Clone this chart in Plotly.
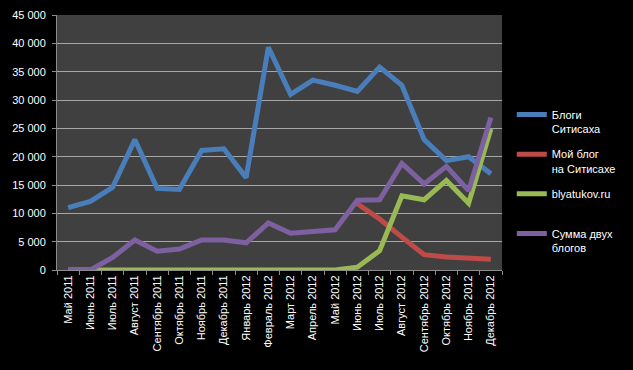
import plotly.graph_objects as go

months = ["Май 2011", "Июнь 2011", "Июль 2011", "Август 2011", "Сентябрь 2011",
          "Октябрь 2011", "Ноябрь 2011", "Декабрь 2011", "Январь 2012", "Февраль 2012",
          "Март 2012", "Апрель 2012", "Май 2012", "Июнь 2012", "Июль 2012",
          "Август 2012", "Сентябрь 2012", "Октябрь 2012", "Ноябрь 2012", "Декабрь 2012"]

blogs_citysakh = [11000, 12100, 14600, 23000, 14400, 14200, 21100, 21400, 16300, 39300,
                  31000, 33500, 32600, 31500, 35800, 32600, 23000, 19300, 20000, 17000]
my_blog = [None, None, None, None, None, None, None, None, None, None,
           None, None, None, 11700, 9000, 5800, 2700, 2300, 2100, 1900]
blyatukov = [0, 0, 0, 0, 0, 0, 0, 0, 0, 0,
             0, 0, 0, 500, 3400, 13100, 12400, 15800, 11800, 24900]
sum_two = [0, 0, 2200, 5300, 3300, 3700, 5300, 5300, 4800, 8300,
           6500, 6800, 7100, 12300, 12400, 18800, 15200, 18300, 14000, 26900]

series_names = ["Блоги<br>Ситисаха", "Мой блог<br>на Ситисахе",
                "blyatukov.ru<br>&nbsp;", "Сумма двух<br>блогов"]
series_colors = ["#4a7ebb", "#be4b48", "#98b954", "#7d60a0"]
series_values = [blogs_citysakh, my_blog, blyatukov, sum_two]

fig = go.Figure()
for i, (name, color, vals) in enumerate(zip(series_names, series_colors, series_values)):
    fig.add_trace(go.Scatter(
        x=months, y=vals, name=name, mode="lines",
        line=dict(color=color, width=5),
        legendgroup=str(i), connectgaps=False,
    ))

font = dict(family="Liberation Sans, Arial, sans-serif", size=11, color="#ffffff")

fig.update_layout(
    width=633, height=370,
    margin=dict(l=57, r=131, t=15, b=100, autoexpand=False),
    paper_bgcolor="#000000",
    plot_bgcolor="#404040",
    separators=", ",
    font=font,
    showlegend=True,
    legend=dict(
        x=1.022, xanchor="left", y=0.663, yanchor="top",
        bgcolor="rgba(0,0,0,0)", font=font,
        tracegroupgap=8, valign="top", itemwidth=30,
        traceorder="grouped",
    ),
    xaxis=dict(
        type="category", range=[-0.5, 19.5], automargin=False,
        tickangle=-90, tickfont=font,
        showgrid=False, showline=True, linecolor="#8c8c8c", linewidth=1,
        ticks="outside", ticklen=4, tickcolor="#8c8c8c", tickson="boundaries",
        zeroline=False,
    ),
    yaxis=dict(
        range=[0, 45000], tickvals=list(range(0, 45001, 5000)), automargin=False,
        tickformat=",d", tickfont=font, ticklabelstandoff=4,
        showgrid=True, gridcolor="#a6a6a6", gridwidth=1,
        showline=True, linecolor="#8c8c8c", linewidth=1,
        ticks="outside", ticklen=4, tickcolor="#8c8c8c",
        zeroline=False,
    ),
)

fig.write_html(
    "out.html",
    config={"displayModeBar": False},
    post_script="document.body.style.margin='0';document.body.style.background='#000000';",
)
